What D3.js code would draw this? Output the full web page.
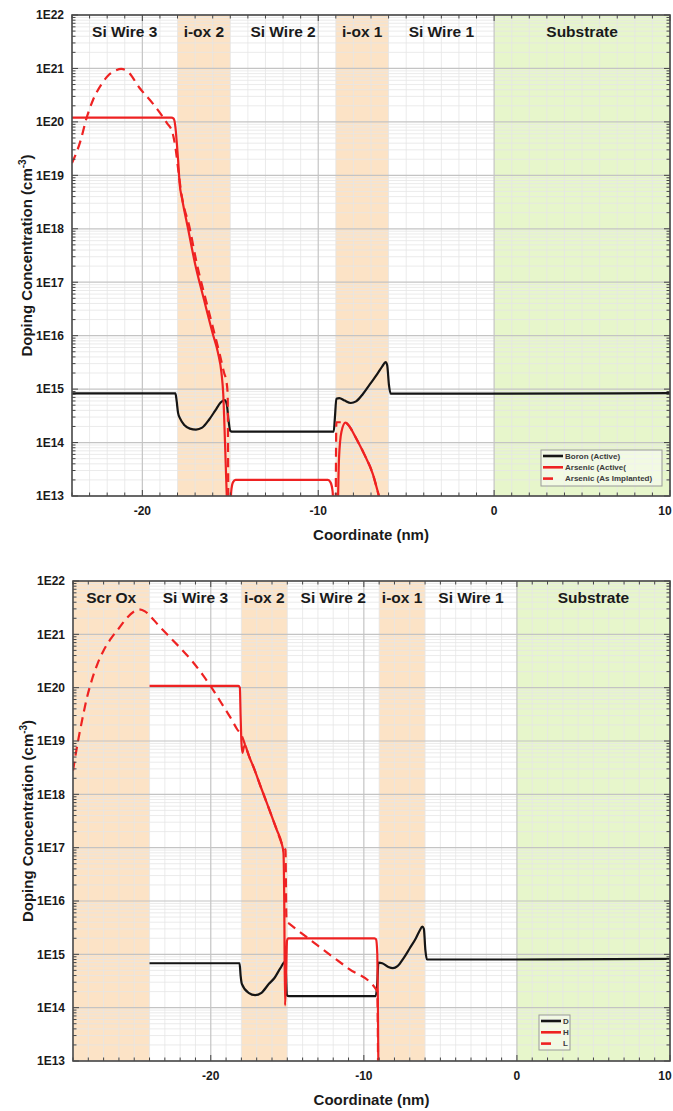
<!DOCTYPE html>
<html>
<head>
<meta charset="utf-8">
<script src="https://cdn.jsdelivr.net/npm/d3@7"></script>
<style>
html, body { margin: 0; padding: 0; background: #fff; }
svg { display: block; font-family: "Liberation Sans", Arial, sans-serif; }
</style>
</head>
<body>
<svg id="fig" width="673" height="1111"></svg>
<script>
// ---------- data ----------
// layer stacks (coordinate in nm)
const topRegions = [
  { label: "Si Wire 3", from: -24, to: -18, kind: "si" },
  { label: "i-ox 2",    from: -18, to: -15, kind: "oxide" },
  { label: "Si Wire 2", from: -15, to: -9,  kind: "si" },
  { label: "i-ox 1",    from: -9,  to: -6,  kind: "oxide" },
  { label: "Si Wire 1", from: -6,  to: 0,   kind: "si" },
  { label: "Substrate", from: 0,   to: 10,  kind: "substrate" }
];
const bottomRegions = [
  { label: "Scr Ox",    from: -29, to: -24, kind: "oxide" },
  { label: "Si Wire 3", from: -24, to: -18, kind: "si" },
  { label: "i-ox 2",    from: -18, to: -15, kind: "oxide" },
  { label: "Si Wire 2", from: -15, to: -9,  kind: "si" },
  { label: "i-ox 1",    from: -9,  to: -6,  kind: "oxide" },
  { label: "Si Wire 1", from: -6,  to: 0,   kind: "si" },
  { label: "Substrate", from: 0,   to: 10,  kind: "substrate" }
];

const topXDomain = [-24, 10];
const bottomXDomain = [-29, 10];
const xTickValues = [-20, -10, 0, 10];
const yDecades = [13, 14, 15, 16, 17, 18, 19, 20, 21, 22];

const topLegendLabels = ["Boron (Active)", "Arsenic (Active(", "Arsenic (As Implanted)"];
const bottomLegendLabels = ["D", "H", "L"];

// concentration profiles [coordinate nm, cm^-3]; values under 1E13 run below the frame
const topBoron = [
  [-24, 8.3e14], [-18.12, 8.3e14], [-18.05, 6e14], [-17.97, 3.6e14], [-17.85, 2.8e14],
  [-17.6, 2.1e14], [-17.3, 1.82e14], [-16.95, 1.75e14], [-16.6, 1.9e14], [-16.2, 2.7e14],
  [-15.85, 4e14], [-15.55, 5.6e14], [-15.32, 6.2e14], [-15.2, 5.2e14], [-15.1, 2.6e14],
  [-15.0, 1.65e14], [-14.85, 1.6e14], [-9.12, 1.6e14], [-9.05, 3e14], [-8.97, 6.6e14],
  [-8.8, 6.8e14], [-8.5, 6.1e14], [-8.15, 5.5e14], [-7.85, 5.9e14], [-7.45, 8.2e14],
  [-7.05, 1.25e15], [-6.65, 1.9e15], [-6.35, 2.7e15], [-6.17, 3.2e15], [-6.08, 2.8e15],
  [-5.98, 1.2e15], [-5.88, 8.2e14], [0, 8.2e14], [10, 8.4e14]
];
const topArsenicActive = [
  [-24, 1.2e20], [-18.35, 1.2e20], [-18.22, 1.15e20], [-18.12, 8e19], [-18.04, 4e19],
  [-17.97, 2e19], [-17.88, 7e18], [-17.73, 3.5e18], [-17.4, 1e18], [-17.0, 2.2e17],
  [-16.5, 4.8e16], [-16.0, 1.1e16], [-15.7, 4.8e15], [-15.5, 2e15], [-15.4, 8e14],
  [-15.3, 1e14], [-15.2, 1e13], [-15.12, 3e12], [-15.02, 3e12], [-14.95, 1.2e13],
  [-14.85, 1.8e13], [-14.7, 2e13], [-9.45, 2e13], [-9.3, 1.8e13], [-9.18, 1.2e13],
  [-9.1, 3e12], [-8.92, 3e12], [-8.82, 5e13], [-8.68, 1.6e14], [-8.45, 2.35e14],
  [-8.2, 1.95e14], [-7.9, 1.3e14], [-7.4, 6.2e13], [-6.9, 2.6e13], [-6.55, 1e13], [-6.3, 5e12]
];
const topArsenicImplanted = [
  [-24, 1.7e19], [-23.5, 4.6e19], [-23.2, 1.1e20], [-22.8, 2.6e20], [-22.3, 5.2e20],
  [-21.9, 7.6e20], [-21.5, 9.2e20], [-21.2, 9.8e20], [-20.8, 8.6e20], [-20.2, 4.5e20],
  [-19.4, 2.2e20], [-18.6, 9.5e19], [-18.3, 6.5e19], [-18.1, 3e19], [-17.95, 1.2e19],
  [-17.8, 5e18], [-17.3, 1e18], [-16.9, 2.2e17], [-16.4, 4.8e16], [-15.9, 1.1e16],
  [-15.6, 4.5e15], [-15.35, 2e15], [-15.22, 1.4e15], [-15.15, 8e14], [-15.1, 3e12],
  [-9.02, 3e12], [-8.97, 2.4e14], [-8.7, 2.4e14], [-8.45, 2.35e14], [-8.2, 1.95e14],
  [-7.9, 1.3e14], [-7.4, 6.2e13], [-6.9, 2.6e13], [-6.55, 1e13], [-6.3, 5e12]
];

const bottomD = [
  [-24, 6.8e14], [-18.12, 6.8e14], [-18.05, 4e14], [-17.97, 2.8e14], [-17.53, 1.9e14],
  [-17.1, 1.72e14], [-16.69, 1.9e14], [-16.2, 2.8e14], [-15.84, 3.6e14], [-15.45, 5.5e14],
  [-15.15, 7.2e14], [-15.08, 4e14], [-15.03, 1.7e14], [-14.9, 1.65e14], [-9.22, 1.65e14],
  [-9.12, 3e14], [-9.05, 7e14], [-8.8, 6.8e14], [-8.4, 5.8e14], [-8.1, 5.5e14],
  [-7.8, 6e14], [-7.4, 8.5e14], [-7.0, 1.3e15], [-6.6, 2e15], [-6.35, 2.8e15],
  [-6.18, 3.3e15], [-6.08, 3e15], [-5.98, 1.2e15], [-5.88, 8e14], [0, 8e14], [10, 8.2e14]
];
const bottomH = [
  [-24, 1.08e20], [-18.2, 1.08e20], [-18.1, 1e20], [-18.05, 3e19], [-18.0, 1e19],
  [-17.93, 6e18], [-17.85, 7.5e18], [-17.75, 8.3e18], [-17.65, 7e18], [-17.5, 5.2e18],
  [-17.2, 3.2e18], [-16.7, 1.3e18], [-16.2, 5.4e17], [-15.7, 2.2e17], [-15.35, 1.15e17],
  [-15.25, 8e16], [-15.2, 1e16], [-15.15, 1.1e14], [-15.08, 4e14], [-15.02, 1.8e15],
  [-14.95, 2e15], [-9.3, 2e15], [-9.2, 1.9e15], [-9.12, 1e15], [-9.08, 1e14], [-9.04, 3e12]
];
const bottomL = [
  [-29, 2.8e18], [-28.7, 9e18], [-28.4, 2.5e19], [-28.1, 6.3e19], [-27.8, 1.3e20],
  [-27.4, 2.8e20], [-27.0, 5e20], [-26.5, 8.5e20], [-26.0, 1.3e21], [-25.5, 2e21],
  [-25.0, 2.7e21], [-24.7, 2.95e21], [-24.3, 2.7e21], [-24.15, 2.5e21], [-23.4, 1.46e21],
  [-22.65, 8.7e20], [-21.9, 5.2e20], [-21.2, 3.1e20], [-20.5, 1.7e20], [-19.84, 9e19],
  [-19.3, 5.1e19], [-18.73, 2.8e19], [-18.3, 1.7e19], [-17.95, 1.2e19], [-17.75, 8.3e18],
  [-17.5, 5.2e18], [-17.2, 3.2e18], [-16.7, 1.3e18], [-16.2, 5.4e17], [-15.7, 2.2e17],
  [-15.3, 1.1e17], [-15.12, 9e16], [-15.06, 5e15], [-15.0, 4e15], [-14.9, 3.8e15],
  [-13.0, 1.45e15], [-11.0, 5.4e14], [-9.2, 2.2e14], [-9.12, 2e14], [-9.06, 3e12]
];

// ---------- drawing ----------
const svg = d3.select("#fig");
const regionFill = { si: "none", oxide: "#fce3c6", substrate: "#e7f6cb" };
const RED = "#ee2222", BLACK = "#151515";
const FIG_W = 673;

function drawPanel(id, box, xDomain, regions, series, legendLabels, legendBox) {
  const x = d3.scaleLinear().domain(xDomain).range([box.left, box.right]);
  const y = d3.scaleLog().domain([1e13, 1e22]).range([box.bottom, box.top]);
  const g = svg.append("g");

  g.append("defs").append("clipPath").attr("id", "clip-" + id)
    .append("rect").attr("x", box.left).attr("y", box.top)
    .attr("width", box.right - box.left).attr("height", box.bottom - box.top);

  // layer bands
  g.append("g").selectAll("rect")
    .data(regions.filter(r => r.kind !== "si"))
    .join("rect")
    .attr("x", d => x(d.from)).attr("width", d => x(d.to) - x(d.from))
    .attr("y", box.top).attr("height", box.bottom - box.top)
    .attr("fill", d => regionFill[d.kind]);

  // grid
  const minorX = d3.range(Math.ceil(xDomain[0]), xDomain[1] + 0.001, 1)
    .filter(v => v % 10 !== 0);
  const minorY = [];
  yDecades.slice(0, -1).forEach(e => { for (let k = 2; k <= 9; k++) minorY.push(k * Math.pow(10, e)); });
  const majorY = yDecades.map(e => Math.pow(10, e));

  const grid = g.append("g");
  grid.selectAll(".gxm").data(minorX).join("line")
    .attr("x1", d => x(d)).attr("x2", d => x(d)).attr("y1", box.top).attr("y2", box.bottom)
    .attr("stroke", "#e6e6e6").attr("stroke-width", 0.8);
  grid.selectAll(".gym").data(minorY).join("line")
    .attr("y1", d => y(d)).attr("y2", d => y(d)).attr("x1", box.left).attr("x2", box.right)
    .attr("stroke", "#e6e6e6").attr("stroke-width", 0.8);
  grid.selectAll(".gx").data(xTickValues).join("line")
    .attr("x1", d => x(d)).attr("x2", d => x(d)).attr("y1", box.top).attr("y2", box.bottom)
    .attr("stroke", "#c4c4c4").attr("stroke-width", 1.2);
  grid.selectAll(".gy").data(majorY).join("line")
    .attr("y1", d => y(d)).attr("y2", d => y(d)).attr("x1", box.left).attr("x2", box.right)
    .attr("stroke", "#c4c4c4").attr("stroke-width", 1.2);

  // profiles
  const line = d3.line()
    .x(d => x(d[0])).y(d => y(d[1]))
    .curve(d3.curveMonotoneX);
  const curves = g.append("g").attr("clip-path", "url(#clip-" + id + ")");
  series.forEach(s => {
    curves.append("path").datum(s.data)
      .attr("d", line)
      .attr("fill", "none")
      .attr("stroke", s.color)
      .attr("stroke-width", s.width)
      .attr("stroke-linejoin", "round")
      .attr("stroke-dasharray", s.dash ? "9,6" : null);
  });

  // axes with inward ticks on all four sides
  const axG = g.append("g").attr("font-weight", "bold").attr("fill", "#1a1a1a");
  const tickStyle = sel => sel.attr("stroke", "#444").attr("stroke-width", 1);
  const xMinorAll = d3.range(Math.ceil(xDomain[0]), xDomain[1] + 0.001, 1);
  [box.bottom, box.top].forEach((yy, i) => {
    const dir = i === 0 ? -1 : 1;
    axG.append("g").selectAll("line").data(xMinorAll).join("line")
      .attr("x1", d => x(d)).attr("x2", d => x(d))
      .attr("y1", yy).attr("y2", d => yy + dir * (d % 10 === 0 ? 6 : 3.5))
      .call(tickStyle);
  });
  const yMinorAll = minorY.concat(majorY);
  [box.left, box.right].forEach((xx, i) => {
    const dir = i === 0 ? 1 : -1;
    axG.append("g").selectAll("line").data(yMinorAll).join("line")
      .attr("y1", d => y(d)).attr("y2", d => y(d))
      .attr("x1", xx).attr("x2", d => xx + dir * (majorY.includes(d) ? 6 : 3.5))
      .call(tickStyle);
  });

  g.append("rect")
    .attr("x", box.left).attr("y", box.top)
    .attr("width", box.right - box.left).attr("height", box.bottom - box.top)
    .attr("fill", "none").attr("stroke", "#4a4a4a").attr("stroke-width", 1.6);

  // tick labels
  axG.append("g").selectAll("text").data(yDecades).join("text")
    .attr("x", box.left - 8).attr("y", d => y(Math.pow(10, d)))
    .attr("dy", "0.36em").attr("text-anchor", "end").attr("font-size", 12)
    .text(d => "1E" + d);
  axG.append("g").selectAll("text").data(xTickValues).join("text")
    .attr("x", d => Math.min(x(d), FIG_W - 8)).attr("y", box.bottom + 19)
    .attr("text-anchor", "middle").attr("font-size", 12)
    .text(d => d);

  // axis titles
  axG.append("text")
    .attr("x", (box.left + box.right) / 2).attr("y", box.bottom + 44)
    .attr("text-anchor", "middle").attr("font-size", 15)
    .text("Coordinate (nm)");
  const yt = axG.append("text")
    .attr("transform", `translate(${box.left - 40},${(box.top + box.bottom) / 2}) rotate(-90)`)
    .attr("text-anchor", "middle").attr("font-size", 15);
  yt.append("tspan").text("Doping Concentration (cm");
  yt.append("tspan").attr("font-size", 10).attr("dy", -6).text("-3");
  yt.append("tspan").attr("dy", 6).text(")");

  // layer names
  g.append("g").selectAll("text").data(regions).join("text")
    .attr("x", d => x((d.from + d.to) / 2)).attr("y", box.top + 22)
    .attr("text-anchor", "middle").attr("font-size", 15.5).attr("font-weight", "bold")
    .attr("fill", "#1a1a1a")
    .text(d => d.label);

  // legend
  const lg = g.append("g");
  lg.append("rect")
    .attr("x", legendBox.x).attr("y", legendBox.y)
    .attr("width", legendBox.w).attr("height", legendBox.h)
    .attr("fill", "#ffffff").attr("fill-opacity", 0.45)
    .attr("stroke", "#9a9a9a").attr("stroke-width", 1);
  series.forEach((s, i) => {
    const yy = legendBox.y + 6 + i * 11.3;
    lg.append("line")
      .attr("x1", legendBox.x + 2).attr("x2", legendBox.x + (s.dash ? 12 : 22))
      .attr("y1", yy).attr("y2", yy)
      .attr("stroke", s.color).attr("stroke-width", 2.6);
    lg.append("text")
      .attr("x", legendBox.x + 24).attr("y", yy).attr("dy", "0.35em")
      .attr("font-size", 8).attr("font-weight", "bold").attr("fill", "#3a3a3a")
      .text(legendLabels[i]);
  });
}

drawPanel("top",
  { left: 72, right: 670, top: 15, bottom: 496 },
  topXDomain, topRegions,
  [
    { data: topBoron, color: BLACK, width: 2.2, dash: false },
    { data: topArsenicActive, color: RED, width: 2.2, dash: false },
    { data: topArsenicImplanted, color: RED, width: 2.2, dash: true }
  ],
  topLegendLabels, { x: 541, y: 450, w: 121, h: 36 });

drawPanel("bottom",
  { left: 73, right: 670, top: 581, bottom: 1061 },
  bottomXDomain, bottomRegions,
  [
    { data: bottomD, color: BLACK, width: 2.2, dash: false },
    { data: bottomH, color: RED, width: 2.2, dash: false },
    { data: bottomL, color: RED, width: 2.2, dash: true }
  ],
  bottomLegendLabels, { x: 539, y: 1015, w: 31, h: 35 });
</script>
</body>
</html>
